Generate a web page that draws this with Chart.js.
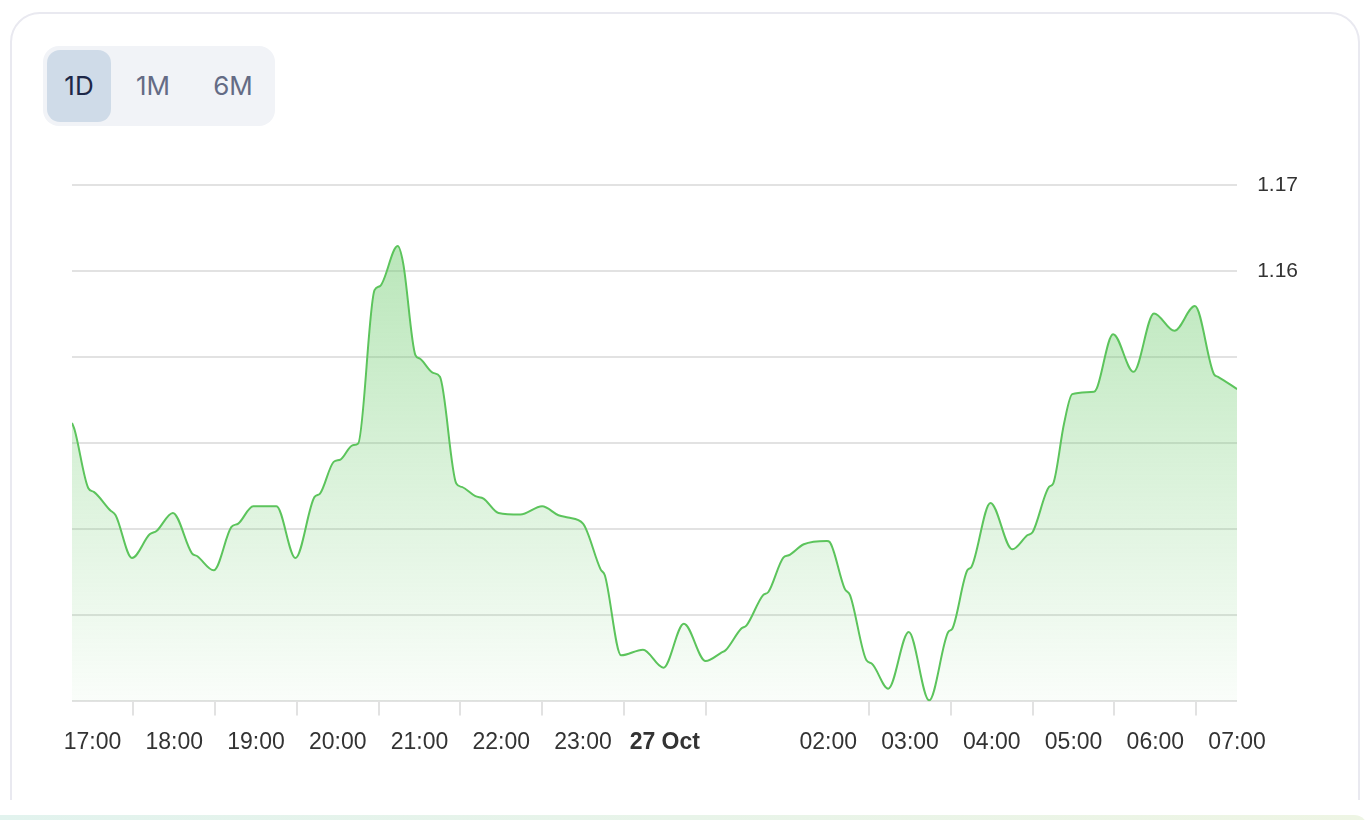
<!DOCTYPE html>
<html>
<head>
<meta charset="utf-8">
<script src="https://cdn.jsdelivr.net/npm/chart.js@4.4.0/dist/chart.umd.min.js"></script>
<style>
  html, body { margin: 0; padding: 0; background: #fff; }
  body { width: 1372px; height: 820px; position: relative; overflow: hidden; font-family: "Liberation Sans", Arial, sans-serif; }
  .clip { position: absolute; left: 0; top: 0; width: 1372px; height: 800px; overflow: hidden; }
  .card { position: absolute; left: 10px; top: 12px; width: 1346px; height: 900px; border: 2px solid #e9e9f0; border-radius: 30px; background: #fff; }
  .range { position: absolute; left: 43px; top: 46px; width: 232px; height: 80px; background: #f1f3f7; border-radius: 16px; }
  .range div { position: absolute; top: 4px; height: 72px; line-height: 72px; text-align: center; font-family: Inter, "Noto Sans", sans-serif; font-size: 26px; color: #646b85; }
  .range .on { background: #cfdbe8; color: #1d2747; border-radius: 13px; }
  .strip { position: absolute; left: 0; top: 815px; width: 1368px; height: 20px; border-radius: 0 14px 0 0; background: linear-gradient(90deg, #e2f3ee, #eef5e4); }
  #box { position: absolute; left: 0; top: 140px; width: 1372px; height: 640px; }
</style>
</head>
<body>
<div class="clip">
  <div class="card"></div>
</div>
<div class="range">
  <div class="on" style="left:4px;width:64px;">1D</div>
  <div style="left:78px;width:64px;">1M</div>
  <div style="left:158px;width:64px;">6M</div>
</div>
<div class="strip"></div>
<div id="box"><canvas id="myChart"></canvas></div>

<script>
// minutes from 17:00 (26 Oct) and price
const minutes = [-15, -13, -3, 1, 13, 17, 29, 42, 47, 59, 73, 77, 89, 102, 107, 118, 135, 149, 163, 167,
  177, 182, 191, 195, 207, 211, 224, 228, 237, 240, 250, 255, 267, 271, 281, 287, 298, 314, 330, 342,
  349, 360, 373, 376, 388, 404, 419, 434, 450, 461, 465, 476, 480, 492, 496, 507, 511, 522, 539, 541,
  552, 556, 568, 572, 584, 599, 614, 628, 631, 642, 645, 659, 675, 686, 690, 702, 705, 713, 719, 735,
  737, 749, 764, 779, 794, 809, 823, 826, 840];
const prices = [1.14236, 1.14151, 1.13477, 1.13434, 1.13221, 1.13163, 1.12666, 1.12942, 1.12980, 1.13190,
  1.12721, 1.12686, 1.12523, 1.13027, 1.13066, 1.13267, 1.13267, 1.12666, 1.13376, 1.13415,
  1.13783, 1.13810, 1.13977, 1.13997, 1.15779, 1.15826, 1.16291, 1.16093, 1.15023, 1.14985,
  1.14817, 1.14771, 1.13531, 1.13492, 1.13384, 1.13357, 1.13190, 1.13171, 1.13267, 1.13163,
  1.13136, 1.13066, 1.12531, 1.12465, 1.11535, 1.11601, 1.11392, 1.11903, 1.11469, 1.11562,
  1.11601, 1.11845, 1.11884, 1.12233, 1.12271, 1.12671, 1.12698, 1.12826, 1.12864, 1.12852,
  1.12310, 1.12233, 1.11477, 1.11438, 1.11148, 1.11806, 1.11012, 1.11806, 1.11845, 1.12523,
  1.12562, 1.13306, 1.12767, 1.12930, 1.12969, 1.13492, 1.13531, 1.14229, 1.14570, 1.14597,
  1.14636, 1.15267, 1.14829, 1.15508, 1.15306, 1.15593, 1.14802, 1.14771, 1.14628];

const yTicks = [1.11, 1.12, 1.13, 1.14, 1.15, 1.16, 1.17];
const yLabelled = [1.17, 1.16];
const hourLabels = ['17:00', '18:00', '19:00', '20:00', '21:00', '22:00', '23:00', '27 Oct',
  '', '02:00', '03:00', '04:00', '05:00', '06:00', '07:00'];
const noTickMark = [510];

const points = minutes.map((m, i) => ({ x: m, y: prices[i] }));

const ctx = document.getElementById('myChart').getContext('2d');

const fillGradient = (context) => {
  const area = context.chart.chartArea;
  if (!area) return 'rgba(92,200,92,0.3)';
  const g = context.chart.ctx.createLinearGradient(0, area.top, 0, area.bottom);
  g.addColorStop(0, 'rgba(100,200,100,0.5)');
  g.addColorStop(1, 'rgba(100,200,100,0.03)');
  return g;
};

const myChart = new Chart(ctx, {
  type: 'line',
  data: {
    datasets: [{
      data: points,
      borderColor: '#5cc45c',
      borderWidth: 2,
      backgroundColor: fillGradient,
      fill: 'start',
      pointRadius: 0,
      cubicInterpolationMode: 'monotone',
    }]
  },
  options: {
    responsive: true,
    maintainAspectRatio: false,
    animation: false,
    layout: { padding: { left: 72, right: 54, top: 45, bottom: 11 } },
    plugins: { legend: { display: false }, tooltip: { enabled: false } },
    scales: {
      x: {
        type: 'linear',
        min: -15,
        max: 840,
        afterBuildTicks: (axis) => {
          const t = [];
          for (let m = 0; m <= 840; m += 30) t.push({ value: m });
          axis.ticks = t;
        },
        ticks: {
          autoSkip: false,
          maxRotation: 0,
          padding: 13,
          color: '#333',
          font: (c) => ({
            family: '"Liberation Sans", Arial, sans-serif',
            size: 23,
            weight: c.tick && c.tick.value === 420 ? 'bold' : 'normal'
          }),
          callback: (v) => (v % 60 === 0 ? hourLabels[v / 60] : '')
        },
        grid: {
          drawOnChartArea: false,
          drawTicks: true,
          tickLength: 14,
          lineWidth: 2,
          color: (c) => {
            const v = c.tick ? c.tick.value : 0;
            if (v % 60 === 0 || noTickMark.includes(v)) return 'rgba(0,0,0,0)';
            return '#e2e2e2';
          }
        },
        border: { display: false }
      },
      y: {
        position: 'right',
        min: 1.11,
        max: 1.17,
        afterBuildTicks: (axis) => { axis.ticks = yTicks.map(v => ({ value: v })); },
        ticks: {
          padding: 20,
          color: '#333',
          font: { family: '"Liberation Sans", Arial, sans-serif', size: 21 },
          callback: (v) => (yLabelled.some(l => Math.abs(l - v) < 1e-6) ? v.toFixed(2) : '')
        },
        grid: { drawTicks: false, lineWidth: 2, color: '#e2e2e2' },
        border: { display: false }
      }
    }
  }
});
</script>
</body>
</html>
